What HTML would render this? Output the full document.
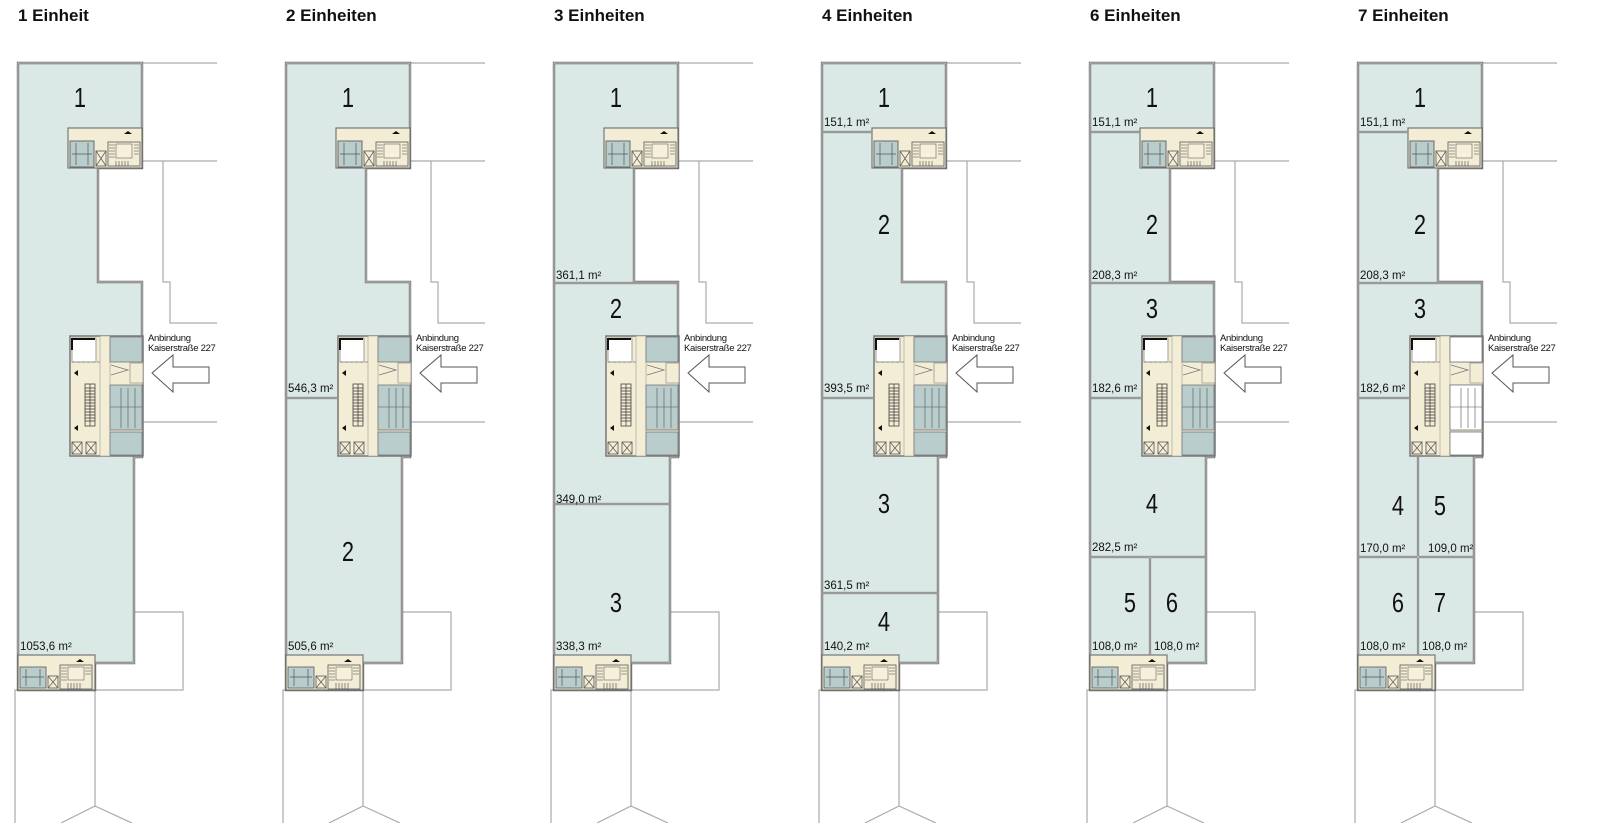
<!DOCTYPE html>
<html><head><meta charset="utf-8"><style>
html,body{margin:0;padding:0;background:#fff;}
svg{display:block;}
.t{font-family:"Liberation Sans",Arial,sans-serif;font-weight:bold;font-size:17px;fill:#111;}
.n{font-family:"Liberation Sans",sans-serif;font-size:28px;fill:#111;text-anchor:middle;transform-box:fill-box;transform-origin:center;transform:scaleX(0.78);}
.a{font-family:"Liberation Sans",sans-serif;font-size:11.5px;fill:#111;}
.k{font-family:"Liberation Sans",sans-serif;font-size:9.5px;fill:#111;letter-spacing:-0.3px;}
</style></head><body>
<svg width="1600" height="823" viewBox="0 0 1600 823" xmlns="http://www.w3.org/2000/svg">
<defs>
<g id="base">
 <g fill="none" stroke="#aaa" stroke-width="1.2">
  <path d="M124 63 H199"/>
  <path d="M124 161 H145 V282 H152 V323 H199 M145 161 H199"/>
  <path d="M125 422 H199"/>
  <path d="M116 612 H165 V690 H77"/>
  <path d="M-3 823 V690 H77 M77 690 V806 L43 823 M77 806 L114 823"/>
 </g>
 <path d="M0 63 H124 V168 H80 V282 H124 V457 H116 V663 H77 V690 H0 Z" fill="#dbe9e6" stroke="#6a6a6a" stroke-width="2.4"/>
 <path d="M0 63 H124 V168 H80 V282 H124 V457 H116 V663 H77 V690 H0 Z" fill="none" stroke="#e8e8e8" stroke-width="0.7"/>
 <rect x="50" y="128" width="74" height="40" fill="#f4edd5" stroke="#777" stroke-width="1.2"/>
 <rect x="52" y="141" width="24" height="26" fill="#b9cdcd" stroke="#666" stroke-width="1"/>
 <path d="M58 143 V165 M70 143 V165 M54 154 H74" stroke="#555" stroke-width="0.7"/>
 <rect x="78" y="151" width="10" height="15" fill="#f4edd5" stroke="#555" stroke-width="0.8"/>
 <path d="M78 151 L88 166 M88 151 L78 166" stroke="#555" stroke-width="0.7"/>
 <rect x="90" y="142" width="32" height="24" fill="#f4edd5" stroke="#555" stroke-width="0.8"/>
 <rect x="98" y="144" width="16" height="14" fill="#f7f0da" stroke="#666" stroke-width="0.6"/>
 <path d="M91 145 H97 M91 148 H97 M91 151 H97 M91 154 H97 M91 157 H97 M116 145 H121 M116 148 H121 M116 151 H121 M116 154 H121 M98 161 V166 M101 161 V166 M104 161 V166 M107 161 V166 M110 161 V166" stroke="#444" stroke-width="0.6"/>
 <path d="M106 134 L110 131 L114 134 Z" fill="#111"/>
 <rect x="52" y="336" width="73" height="120" fill="#f4edd5" stroke="#777" stroke-width="1.5"/>
 <rect x="54" y="338" width="24" height="24" fill="#fff" stroke="#888" stroke-width="0.8"/>
 <path d="M54 339 H77 M54 338 V350" stroke="#111" stroke-width="2"/>
 <path d="M54 362 H82" stroke="#777" stroke-width="0.8" stroke-dasharray="3,2"/>
 <rect x="82" y="336" width="10" height="120" fill="#f4edd5" stroke="#999" stroke-width="0.6"/>
 <rect x="92" y="337" width="32" height="25" fill="#b9cdcd" stroke="#777" stroke-width="0.8"/>
 <rect x="112" y="363" width="13" height="20" fill="#f4edd5" stroke="#999" stroke-width="0.8"/>
 <path d="M93 365 L110 370 L93 375" fill="none" stroke="#777" stroke-width="0.8"/>
 <rect x="92" y="385" width="32" height="45" fill="#b9cdcd" stroke="#777" stroke-width="0.8"/>
 <path d="M92 407 H124 M103 388 V428 M110 388 V428 M117 388 V428" stroke="#555" stroke-width="0.6"/>
 <rect x="92" y="432" width="32" height="23" fill="#b9cdcd" stroke="#777" stroke-width="0.8"/>
 <rect x="67" y="384" width="10" height="42" fill="#f4edd5" stroke="#444" stroke-width="0.8"/>
 <path d="M67 388 H77 M67 391 H77 M67 394 H77 M67 397 H77 M67 400 H77 M67 403 H77 M67 406 H77 M67 409 H77 M67 412 H77 M67 415 H77 M67 418 H77 M67 421 H77 M72 384 V426" stroke="#333" stroke-width="0.7"/>
 <path d="M56 373 L60 370 V376 Z M56 428 L60 425 V431 Z" fill="#111"/>
 <rect x="54" y="442" width="10" height="12" fill="#f4edd5" stroke="#555" stroke-width="0.8"/>
 <path d="M54 442 L64 454 M64 442 L54 454" stroke="#555" stroke-width="0.7"/>
 <rect x="68" y="442" width="10" height="12" fill="#f4edd5" stroke="#555" stroke-width="0.8"/>
 <path d="M68 442 L78 454 M78 442 L68 454" stroke="#555" stroke-width="0.7"/>
 <path d="M134 373 L155 355 V367 H191 V383 H155 V392 Z" fill="#fff" stroke="#555" stroke-width="1"/>
 <rect x="0" y="655" width="77" height="35" fill="#f4edd5" stroke="#777" stroke-width="1.2"/>
 <rect x="2" y="667" width="26" height="21" fill="#b9cdcd" stroke="#666" stroke-width="0.9"/>
 <path d="M8 669 V686 M22 669 V686 M4 677 H26" stroke="#555" stroke-width="0.7"/>
 <rect x="30" y="676" width="10" height="12" fill="#f4edd5" stroke="#555" stroke-width="0.8"/>
 <path d="M30 676 L40 688 M40 676 L30 688" stroke="#555" stroke-width="0.7"/>
 <rect x="42" y="665" width="32" height="24" fill="#f4edd5" stroke="#555" stroke-width="0.8"/>
 <rect x="50" y="667" width="16" height="13" fill="#f7f0da" stroke="#666" stroke-width="0.6"/>
 <path d="M43 668 H49 M43 671 H49 M43 674 H49 M43 677 H49 M43 680 H49 M67 668 H73 M67 671 H73 M67 674 H73 M50 683 V689 M53 683 V689 M56 683 V689 M59 683 V689 M62 683 V689" stroke="#444" stroke-width="0.6"/>
 <path d="M58 662 L62 659 L66 662 Z" fill="#111"/>
</g>
</defs>

<text class="t" x="18" y="21">1 Einheit</text>
<text class="t" x="286" y="21">2 Einheiten</text>
<text class="t" x="554" y="21">3 Einheiten</text>
<text class="t" x="822" y="21">4 Einheiten</text>
<text class="t" x="1090" y="21">6 Einheiten</text>
<text class="t" x="1358" y="21">7 Einheiten</text>

<g transform="translate(18,0)">
 <use href="#base"/>
 <text class="k" x="130" y="341">Anbindung</text><text class="k" x="130" y="351">Kaiserstraße 227</text>
 <text class="n" x="62" y="107">1</text>
 <text class="a" x="2" y="650">1053,6 m²</text>
</g>
<g transform="translate(286,0)">
 <use href="#base"/>
 <text class="k" x="130" y="341">Anbindung</text><text class="k" x="130" y="351">Kaiserstraße 227</text>
 <path d="M0 398 H52" stroke="#666" stroke-width="2.2"/><path d="M0 398 H52" stroke="#eee" stroke-width="0.7"/>
 <text class="n" x="62" y="107">1</text>
 <text class="a" x="2" y="392">546,3 m²</text>
 <text class="n" x="62" y="561">2</text>
 <text class="a" x="2" y="650">505,6 m²</text>
</g>
<g transform="translate(554,0)">
 <use href="#base"/>
 <text class="k" x="130" y="341">Anbindung</text><text class="k" x="130" y="351">Kaiserstraße 227</text>
 <path d="M0 283 H124 M0 504 H116" stroke="#666" stroke-width="2.2"/><path d="M0 283 H124 M0 504 H116" stroke="#eee" stroke-width="0.7"/>
 <text class="n" x="62" y="107">1</text>
 <text class="a" x="2" y="279">361,1 m²</text>
 <text class="n" x="62" y="318">2</text>
 <text class="a" x="2" y="503">349,0 m²</text>
 <text class="n" x="62" y="612">3</text>
 <text class="a" x="2" y="650">338,3 m²</text>
</g>
<g transform="translate(822,0)">
 <use href="#base"/>
 <text class="k" x="130" y="341">Anbindung</text><text class="k" x="130" y="351">Kaiserstraße 227</text>
 <path d="M0 132 H50 M0 398 H52 M0 593 H116" stroke="#666" stroke-width="2.2"/><path d="M0 132 H50 M0 398 H52 M0 593 H116" stroke="#eee" stroke-width="0.7"/>
 <text class="n" x="62" y="107">1</text>
 <text class="a" x="2" y="126">151,1 m²</text>
 <text class="n" x="62" y="234">2</text>
 <text class="a" x="2" y="392">393,5 m²</text>
 <text class="n" x="62" y="513">3</text>
 <text class="a" x="2" y="589">361,5 m²</text>
 <text class="n" x="62" y="631">4</text>
 <text class="a" x="2" y="650">140,2 m²</text>
</g>
<g transform="translate(1090,0)">
 <use href="#base"/>
 <text class="k" x="130" y="341">Anbindung</text><text class="k" x="130" y="351">Kaiserstraße 227</text>
 <path d="M0 132 H50 M0 283 H124 M0 398 H52 M0 557 H116 M60 557 V655" stroke="#666" stroke-width="2.2"/><path d="M0 132 H50 M0 283 H124 M0 398 H52 M0 557 H116 M60 557 V655" stroke="#eee" stroke-width="0.7"/>
 <text class="n" x="62" y="107">1</text>
 <text class="a" x="2" y="126">151,1 m²</text>
 <text class="n" x="62" y="234">2</text>
 <text class="a" x="2" y="279">208,3 m²</text>
 <text class="n" x="62" y="318">3</text>
 <text class="a" x="2" y="392">182,6 m²</text>
 <text class="n" x="62" y="513">4</text>
 <text class="a" x="2" y="551">282,5 m²</text>
 <text class="n" x="40" y="612">5</text>
 <text class="n" x="82" y="612">6</text>
 <text class="a" x="2" y="650">108,0 m²</text>
 <text class="a" x="64" y="650">108,0 m²</text>
</g>
<g transform="translate(1358,0)">
 <use href="#base"/>
 <rect x="92" y="337" width="32" height="25" fill="#fff" stroke="#777" stroke-width="0.8"/>
 <rect x="92" y="385" width="32" height="45" fill="#fff" stroke="#777" stroke-width="0.8"/>
 <path d="M92 407 H124 M103 388 V428 M110 388 V428 M117 388 V428" stroke="#555" stroke-width="0.6"/>
 <rect x="92" y="432" width="32" height="23" fill="#fff" stroke="#777" stroke-width="0.8"/>
 <text class="k" x="130" y="341">Anbindung</text><text class="k" x="130" y="351">Kaiserstraße 227</text>
 <path d="M0 132 H50 M0 283 H124 M0 398 H52 M0 557 H116 M60 457 V655" stroke="#666" stroke-width="2.2"/><path d="M0 132 H50 M0 283 H124 M0 398 H52 M0 557 H116 M60 457 V655" stroke="#eee" stroke-width="0.7"/>
 <text class="n" x="62" y="107">1</text>
 <text class="a" x="2" y="126">151,1 m²</text>
 <text class="n" x="62" y="234">2</text>
 <text class="a" x="2" y="279">208,3 m²</text>
 <text class="n" x="62" y="318">3</text>
 <text class="a" x="2" y="392">182,6 m²</text>
 <text class="n" x="40" y="515">4</text>
 <text class="n" x="82" y="515">5</text>
 <text class="a" x="2" y="552">170,0 m²</text>
 <text class="a" x="70" y="552">109,0 m²</text>
 <text class="n" x="40" y="612">6</text>
 <text class="n" x="82" y="612">7</text>
 <text class="a" x="2" y="650">108,0 m²</text>
 <text class="a" x="64" y="650">108,0 m²</text>
</g>
</svg>
</body></html>
